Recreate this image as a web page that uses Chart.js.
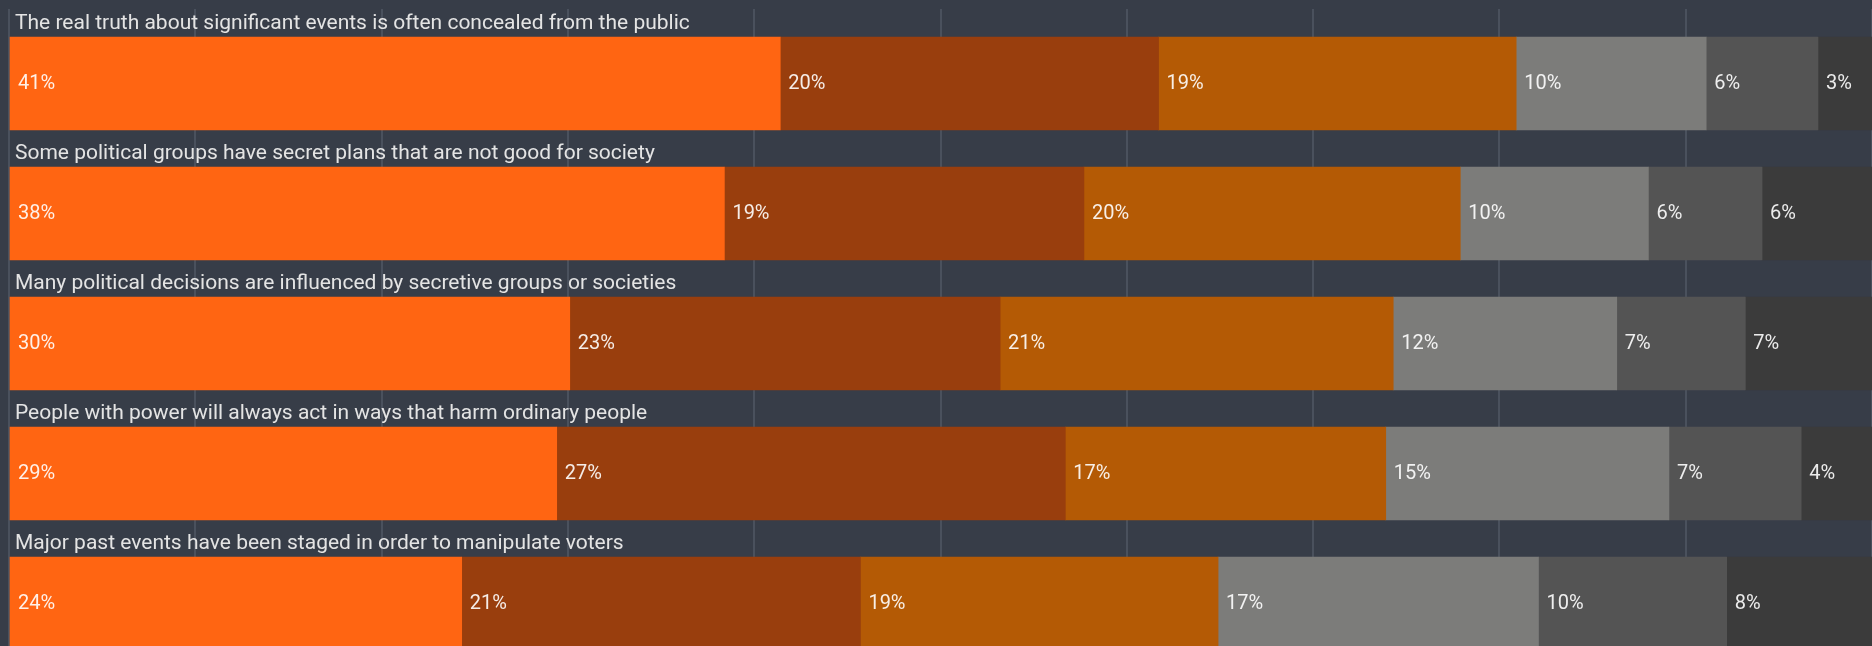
<!DOCTYPE html>
<html>
<head>
<meta charset="utf-8">
<script src="https://cdn.jsdelivr.net/npm/chart.js@4.4.1/dist/chart.umd.min.js"></script>
<style>
  html, body { margin: 0; padding: 0; background: #373d48; overflow: hidden; }
  #wrap { width: 1872px; height: 646px; position: relative; }
</style>
</head>
<body>
<div id="wrap"><canvas id="chart-bars"></canvas></div>

<script>
// statements, top to bottom
var statements = [
  "The real truth about significant events is often concealed from the public",
  "Some political groups have secret plans that are not good for society",
  "Many political decisions are influenced by secretive groups or societies",
  "People with power will always act in ways that harm ordinary people",
  "Major past events have been staged in order to manipulate voters"
];

// share of respondents (%) per answer, one value per statement
var stronglyAgree    = [41.4, 38.4, 30.1, 29.4, 24.3];
var tendToAgree      = [20.3, 19.3, 23.1, 27.3, 21.4];
var neither          = [19.2, 20.2, 21.1, 17.2, 19.2];
var tendToDisagree   = [10.2, 10.1, 12.0, 15.2, 17.2];
var stronglyDisagree = [6.0, 6.1, 6.9, 7.1, 10.1];
var dontKnow         = [2.9, 5.9, 6.8, 3.8, 7.8];

var answers = ["Strongly agree", "Tend to agree", "Neither agree nor disagree",
               "Tend to disagree", "Strongly disagree", "Don't know"];
var series = [stronglyAgree, tendToAgree, neither, tendToDisagree, stronglyDisagree, dontKnow];
var colors = ["#ff6512", "#993e0d", "#b45a05", "#7c7c7a", "#545454", "#3b3b3b"];

// x axis grid every 10%
var xTicks = [0, 10, 20, 30, 40, 50, 60, 70, 80, 90, 100];

function toPoints(values) {
  return values.map(function (v, i) { return { x: v, y: i }; });
}

var datasets = series.map(function (values, k) {
  return {
    label: answers[k],
    data: toPoints(values),
    backgroundColor: colors[k],
    borderWidth: 0,
    barThickness: 93,
    grouped: false
  };
});

// statement text above each bar + value text inside each segment
var barLabels = {
  id: "barLabels",
  afterDatasetsDraw: function (chart) {
    var ctx = chart.ctx;
    ctx.save();
    ctx.textAlign = "left";

    var first = chart.getDatasetMeta(0);
    ctx.font = "21px Roboto";
    ctx.fillStyle = "#e4e4e4";
    ctx.textBaseline = "alphabetic";
    first.data.forEach(function (bar, i) {
      ctx.fillText(statements[i], chart.chartArea.left + 6, bar.y - bar.height / 2 - 8);
    });

    ctx.font = "20px Roboto";
    ctx.fillStyle = "rgba(255,255,255,0.9)";
    ctx.textBaseline = "middle";
    chart.data.datasets.forEach(function (ds, k) {
      var meta = chart.getDatasetMeta(k);
      meta.data.forEach(function (bar, i) {
        var v = series[k][i];
        ctx.fillText(Math.round(v) + "%", Math.min(bar.base, bar.x) + 8, bar.y + 1);
      });
    });
    ctx.restore();
  }
};

var ctx = document.getElementById("chart-bars").getContext("2d");
new Chart(ctx, {
  type: "bar",
  data: {
    datasets: datasets
  },
  options: {
    indexAxis: "y",
    responsive: true,
    maintainAspectRatio: false,
    animation: false,
    layout: {
      padding: { left: 9, top: 9, right: 0, bottom: 0 }
    },
    plugins: {
      legend: { display: false },
      tooltip: { enabled: false }
    },
    scales: {
      x: {
        type: "linear",
        stacked: true,
        min: 0,
        max: 100,
        afterBuildTicks: function (axis) {
          axis.ticks = xTicks.map(function (v) { return { value: v }; });
        },
        afterFit: function (axis) {
          axis.height = 0;
        },
        grid: {
          color: "#4a515d",
          lineWidth: 2,
          drawTicks: false
        },
        border: { display: false },
        ticks: { display: false }
      },
      y: {
        type: "linear",
        display: false,
        offset: false,
        stacked: true,
        reverse: true,
        min: -0.573,
        max: 4.327
      }
    }
  },
  plugins: [barLabels]
});
</script>
</body>
</html>
